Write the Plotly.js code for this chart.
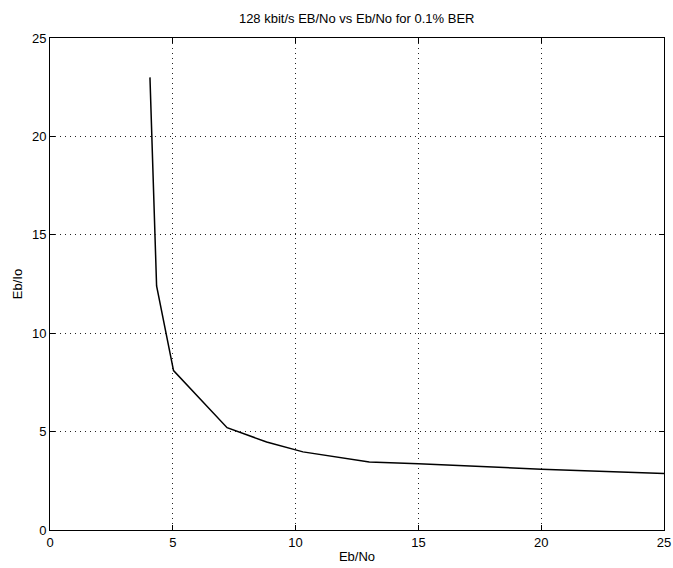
<!DOCTYPE html>
<html>
<head>
<meta charset="utf-8">
<script src="https://cdn.plot.ly/plotly-3.0.1.min.js"></script>
<style>html,body{margin:0;padding:0;background:#fff;}#chart{width:673px;height:568px;}</style>
</head>
<body>
<div id="chart"></div>
<script>
var ebNo = [4.07, 4.34, 5.03, 7.21, 8.82, 10.3, 13.0, 15.0, 20.0, 25.0];
var ebIo = [23.0, 12.4, 8.1, 5.2, 4.47, 3.97, 3.45, 3.37, 3.09, 2.87];
var xTicks = [0, 5, 10, 15, 20, 25];
var yTicks = [0, 5, 10, 15, 20, 25];

var font = {family: '"Liberation Sans", Arial, sans-serif', size: 13, color: '#000'};
var axisCommon = {
  showline: true, linecolor: '#000', linewidth: 1, mirror: 'allticks',
  ticks: 'inside', ticklen: 5, tickcolor: '#000', tickwidth: 1,
  showgrid: true, gridcolor: '#222', griddash: '1px,4px', gridwidth: 1,
  zeroline: false, tickfont: font, tickmode: 'array'
};
var layout = {
  width: 673, height: 568,
  margin: {l: 50, r: 9, t: 38, b: 38},
  paper_bgcolor: '#fff', plot_bgcolor: '#fff',
  showlegend: false,
  font: font,
  title: {text: '128 kbit/s EB/No vs Eb/No for 0.1% BER', font: font, x: 0.53, xanchor: 'center', y: 0.968, yanchor: 'middle'},
  xaxis: Object.assign({}, axisCommon, {range: [0, 25], tickvals: xTicks, ticktext: xTicks.map(String),
    title: {text: 'Eb/No', font: font, standoff: 3}}),
  yaxis: Object.assign({}, axisCommon, {range: [0, 25], tickvals: yTicks, ticktext: yTicks.map(String),
    title: {text: 'Eb/Io', font: font, standoff: 6}})
};
Plotly.newPlot('chart', [{
  x: ebNo, y: ebIo, type: 'scatter', mode: 'lines',
  line: {color: '#000', width: 1.5}
}], layout, {displayModeBar: false, staticPlot: true});
</script>
</body>
</html>
